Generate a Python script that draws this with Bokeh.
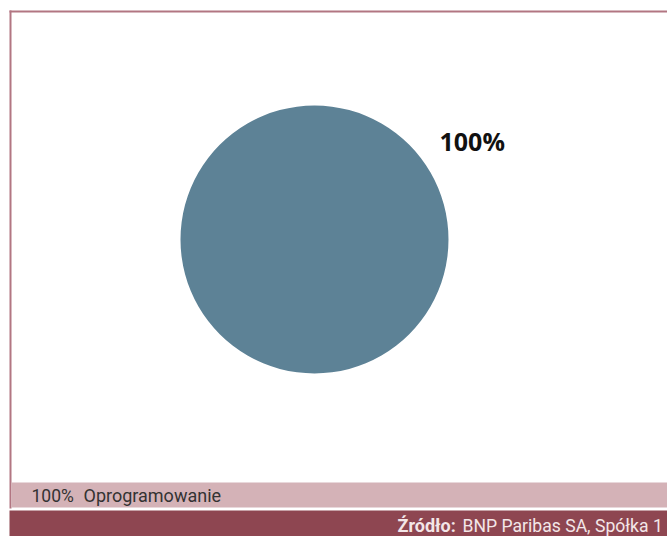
import numpy as np
from bokeh.plotting import figure
from bokeh.models import Range1d, ColumnDataSource
from bokeh.core.properties import value
from bokeh.embed import file_html
from bokeh.resources import INLINE

# ---- data ----
categories = ["Oprogramowanie"]
shares = [100]
slice_colors = ["#5d8296"]
legend_pcts = ["100%"]
legend_names = ["Oprogramowanie"]
source_bold = "Źródło:"
source_text = "BNP Paribas SA, Spółka 1"

W, H = 667, 536
p = figure(width=W, height=H, output_backend="svg", toolbar_location=None,
           x_range=Range1d(0, W), y_range=Range1d(0, H), min_border=0)
p.axis.visible = False
p.grid.visible = False
p.outline_line_color = None
p.background_fill_color = "white"
p.border_fill_color = "white"

# frame border (left + top)
border = "#b27682"
p.quad(left=[9], right=[11], bottom=[28], top=[526], fill_color=border, line_color=None)
p.quad(left=[9], right=[W], bottom=[524], top=[526], fill_color=border, line_color=None)

# legend band
p.quad(left=[11], right=[W], bottom=[29], top=[54], fill_color="#d4b2b7", line_color=None)
# source band
p.quad(left=[9], right=[W], bottom=[0], top=[26], fill_color="#8e4651", line_color=None)

# pie
vals = np.array(shares, dtype=float)
frac = vals / vals.sum()
sweep = 2 * np.pi * frac - 1e-4
ends = np.pi / 2 - np.concatenate([[0], np.cumsum(2 * np.pi * frac)[:-1]])
starts = ends - sweep
src = ColumnDataSource(dict(start=starts, end=ends, color=slice_colors,
                            cat=categories,
                            pct=[f"{int(round(f*100))}%" for f in frac]))
cx, cy, r = 314, 297, 134
p.wedge(x=cx, y=cy, radius=r, radius_units="screen", start_angle="start",
        end_angle="end", fill_color="color", line_color=None, source=src)

# data label
p.text(x=[cx + 125], y=[cy + 99], text=src.data["pct"], text_font=value("Open Sans"),
       text_font_size="25px", text_font_style="bold", text_color="#111111",
       text_align="left", text_baseline="middle")

# legend text
p.text(x=[31], y=[41], text=legend_pcts, text_font=value("Roboto"),
       text_font_size="17.5px", text_color="#333333", text_align="left",
       text_baseline="middle")
p.text(x=[83], y=[41], text=legend_names, text_font=value("Roboto"),
       text_font_size="18px", text_color="#333333", text_align="left",
       text_baseline="middle")

# source text
p.text(x=[397], y=[11], text=[source_bold], text_font=value("Roboto"),
       text_font_size="18px", text_font_style="bold", text_color="#f3e6e8",
       text_align="left", text_baseline="middle")
p.text(x=[462], y=[11], text=[source_text], text_font=value("Roboto"),
       text_font_size="17.6px", text_color="#f3e6e8",
       text_align="left", text_baseline="middle")

open("out.html", "w").write(file_html(p, INLINE))
